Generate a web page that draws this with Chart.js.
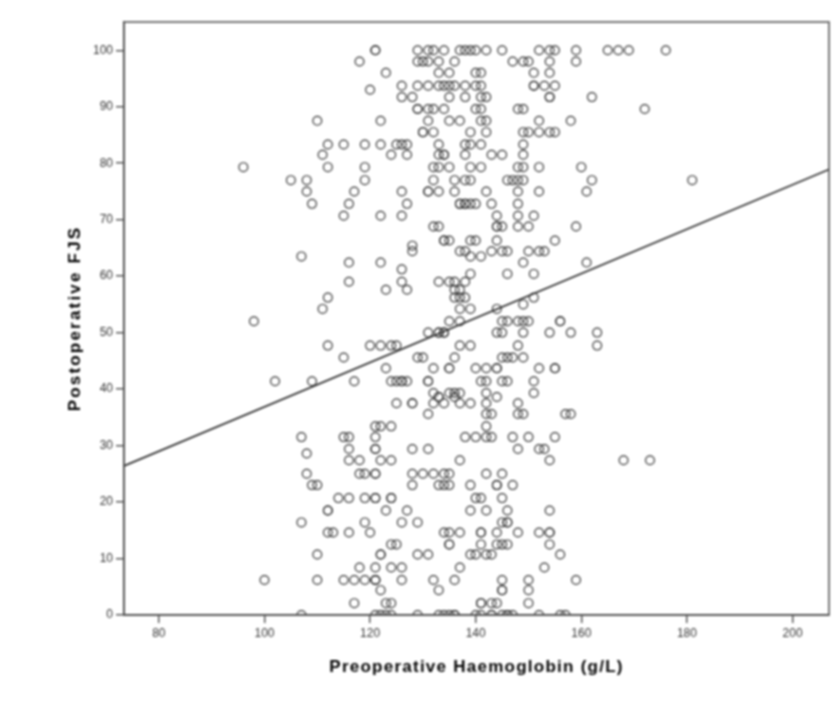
<!DOCTYPE html>
<html>
<head>
<meta charset="utf-8">
<script src="https://cdn.jsdelivr.net/npm/chart.js@4"></script>
<style>
  html, body { margin: 0; padding: 0; background: #fff; }
  #chartBox { width: 840px; height: 714px; }
  #scatter { display: block; filter: blur(0.8px); }
</style>
</head>
<body>
<div id="chartBox"><canvas id="scatter" width="840" height="714"></canvas></div>
<script>
const fjsLevels = [100, 98, 96, 93.7, 93, 91.7, 89.6, 87.5, 85.5, 83.3, 81.5, 79.3, 77, 75, 72.8, 70.7, 68.8, 66.3, 65.4, 64.4, 63.5, 62.4, 60.4, 61.2, 59, 57.6, 56.2, 54.2, 55, 52, 50, 47.7, 45.6, 43.7, 41.4, 39.3, 38.6, 37.5, 35.6, 33.4, 31.5, 29.4, 28.6, 27.4, 25, 23, 20.7, 18.5, 16.4, 14.6, 12.5, 10.7, 8.4, 6.2, 4.4, 2.1, 0];
const hbByLevel = [
    [121, 121, 129, 131, 132, 134, 137, 138, 139, 140, 142, 145, 152, 154, 155, 159, 165, 167, 169, 176],
    [118, 129, 130, 131, 133, 136, 147, 149, 150, 154, 159],
    [123, 133, 135, 140, 141, 151, 154],
    [126, 129, 131, 133, 134, 135, 136, 138, 140, 141, 151, 151, 153, 155],
    [120],
    [126, 128, 135, 138, 141, 142, 154, 154, 162],
    [129, 129, 131, 132, 134, 140, 141, 148, 149, 172],
    [110, 122, 131, 135, 137, 141, 142, 152, 158],
    [130, 130, 132, 139, 142, 149, 150, 152, 154, 155],
    [112, 115, 119, 122, 125, 126, 127, 133, 138, 139, 141, 149],
    [111, 124, 127, 133, 134, 134, 138, 143, 145, 149],
    [96, 112, 119, 132, 133, 135, 139, 141, 148, 149, 152, 160],
    [105, 108, 119, 132, 136, 138, 139, 146, 147, 148, 149, 162, 181],
    [108, 117, 126, 131, 131, 133, 136, 142, 148, 152, 161],
    [109, 116, 127, 137, 137, 138, 138, 139, 140, 143, 148],
    [115, 122, 126, 144, 148, 151],
    [132, 133, 144, 144, 145, 148, 150, 159],
    [134, 134, 135, 139, 140, 144, 155],
    [128],
    [128, 137, 138, 143, 145, 146, 150, 152, 153],
    [107, 139, 141],
    [116, 122, 149, 161],
    [139, 146, 151],
    [126],
    [116, 126, 133, 135, 136, 138],
    [123, 127, 136, 137],
    [112, 136, 137, 138, 151],
    [111, 137, 139, 144],
    [149],
    [98, 135, 137, 145, 146, 148, 149, 150, 156, 156],
    [131, 133, 133, 134, 134, 144, 145, 149, 154, 158, 163],
    [112, 120, 122, 124, 125, 137, 139, 148, 163],
    [115, 129, 130, 136, 145, 146, 147, 149],
    [123, 132, 135, 135, 140, 142, 144, 144, 152, 155, 155],
    [102, 109, 117, 124, 125, 126, 126, 127, 131, 131, 141, 142, 145, 146, 151],
    [132, 135, 136, 137, 142, 151],
    [133, 133, 136, 144],
    [125, 128, 128, 132, 134, 137, 139, 142, 148],
    [131, 142, 143, 148, 149, 157, 158],
    [121, 122, 124, 142],
    [107, 115, 116, 121, 138, 140, 142, 143, 147, 150, 155],
    [116, 121, 121, 128, 131, 148, 152, 153],
    [108],
    [116, 118, 122, 124, 137, 154, 168, 173],
    [108, 118, 119, 121, 121, 128, 130, 132, 134, 135, 142, 145],
    [109, 110, 128, 133, 134, 135, 139, 144, 144, 147],
    [114, 116, 119, 121, 121, 124, 124, 140, 141, 145],
    [112, 112, 123, 127, 139, 142, 146, 154],
    [107, 119, 126, 129, 145, 146, 146],
    [112, 113, 116, 120, 134, 135, 137, 141, 141, 144, 148, 152, 154, 154],
    [124, 125, 135, 135, 141, 144, 145, 146, 154],
    [110, 122, 122, 129, 131, 139, 140, 142, 143, 156],
    [118, 121, 124, 126, 137, 153],
    [100, 110, 115, 117, 119, 121, 121, 121, 126, 132, 136, 145, 150, 159],
    [122, 133, 145, 145, 150],
    [117, 123, 124, 141, 141, 143, 144, 150],
    [107, 121, 122, 123, 124, 129, 133, 134, 135, 136, 136, 140, 141, 143, 143, 145, 146, 146, 147, 152, 156, 157]
];

// Fit line ends, at the edges of the plot
const fitHb = [73.4, 206.9];
const fitFjs = [26.4, 78.9];

const xTicks = [80, 100, 120, 140, 160, 180, 200];
const yTicks = [0, 10, 20, 30, 40, 50, 60, 70, 80, 90, 100];

const inkColor = '#4a4a4a';

const scatterPoints = [];
fjsLevels.forEach(function(level, i) {
    hbByLevel[i].forEach(function(hb) {
        scatterPoints.push({ x: hb, y: level });
    });
});

// Marco superior y derecho del area del grafico
const plotFrame = {
    id: 'plotFrame',
    afterDraw: function(chart) {
        const a = chart.chartArea;
        const c = chart.ctx;
        c.save();
        c.strokeStyle = inkColor;
        c.lineWidth = 1.5;
        c.strokeRect(a.left, a.top, a.right - a.left, a.bottom - a.top);
        c.restore();
    }
};

// Chart.js has no letter spacing option, the axis titles of the reference are wide
const titleSpacing = {
    id: 'titleSpacing',
    beforeDraw: function(chart) {
        [['x', '1.25px'], ['y', '2.2px']].forEach(function(item) {
            const scale = chart.scales[item[0]];
            if (scale.spacedTitle) return;
            const drawTitle = scale.drawTitle;
            scale.drawTitle = function() {
                chart.ctx.letterSpacing = item[1];
                drawTitle.call(scale);
                chart.ctx.letterSpacing = '0px';
            };
            scale.spacedTitle = true;
        });
    }
};

new Chart(document.getElementById('scatter').getContext('2d'), {
    type: 'scatter',
    data: {
        datasets: [{
            data: scatterPoints,
            pointStyle: 'circle',
            pointRadius: 4.4,
            pointBorderWidth: 1.2,
            pointBorderColor: '#333',
            pointBackgroundColor: 'rgba(0,0,0,0)'
        }, {
            data: fitHb.map(function(x, i) { return { x: x, y: fitFjs[i] }; }),
            showLine: true,
            pointRadius: 0,
            borderColor: '#222',
            borderWidth: 1.6
        }]
    },
    options: {
        responsive: false,
        animation: false,
        layout: { padding: { left: 0, top: 22, right: 11, bottom: 0 } },
        plugins: {
            legend: { display: false },
            tooltip: { enabled: false }
        },
        scales: {
            x: {
                type: 'linear',
                min: fitHb[0],
                max: fitHb[1],
                afterBuildTicks: function(scale) {
                    scale.ticks = xTicks.map(function(v) { return { value: v }; });
                },
                afterFit: function(scale) { scale.height = 99; },
                grid: { drawOnChartArea: false, color: inkColor, tickLength: 8, lineWidth: 1.4 },
                border: { color: inkColor, width: 1.5 },
                ticks: {
                    autoSkip: false,
                    maxRotation: 0,
                    padding: 3,
                    color: '#333',
                    font: { family: '"Liberation Sans"', size: 12 }
                },
                title: {
                    display: true,
                    text: 'Preoperative Haemoglobin (g/L)',
                    color: '#000',
                    font: { family: '"Liberation Sans"', size: 17, weight: 'bold' },
                    padding: { top: 0, bottom: 36 }
                }
            },
            y: {
                type: 'linear',
                min: 0,
                max: 105,
                afterBuildTicks: function(scale) {
                    scale.ticks = yTicks.map(function(v) { return { value: v }; });
                },
                afterFit: function(scale) { scale.width = 124; },
                grid: { drawOnChartArea: false, color: inkColor, tickLength: 8, lineWidth: 1.4 },
                border: { color: inkColor, width: 1.5 },
                ticks: {
                    autoSkip: false,
                    padding: 3,
                    color: '#333',
                    font: { family: '"Liberation Sans"', size: 12 }
                },
                title: {
                    display: true,
                    text: 'Postoperative FJS',
                    color: '#000',
                    font: { family: '"Liberation Sans"', size: 17, weight: 'bold' },
                    padding: { top: 65, bottom: 0 }
                }
            }
        }
    },
    plugins: [plotFrame, titleSpacing]
});
</script>
</body>
</html>
